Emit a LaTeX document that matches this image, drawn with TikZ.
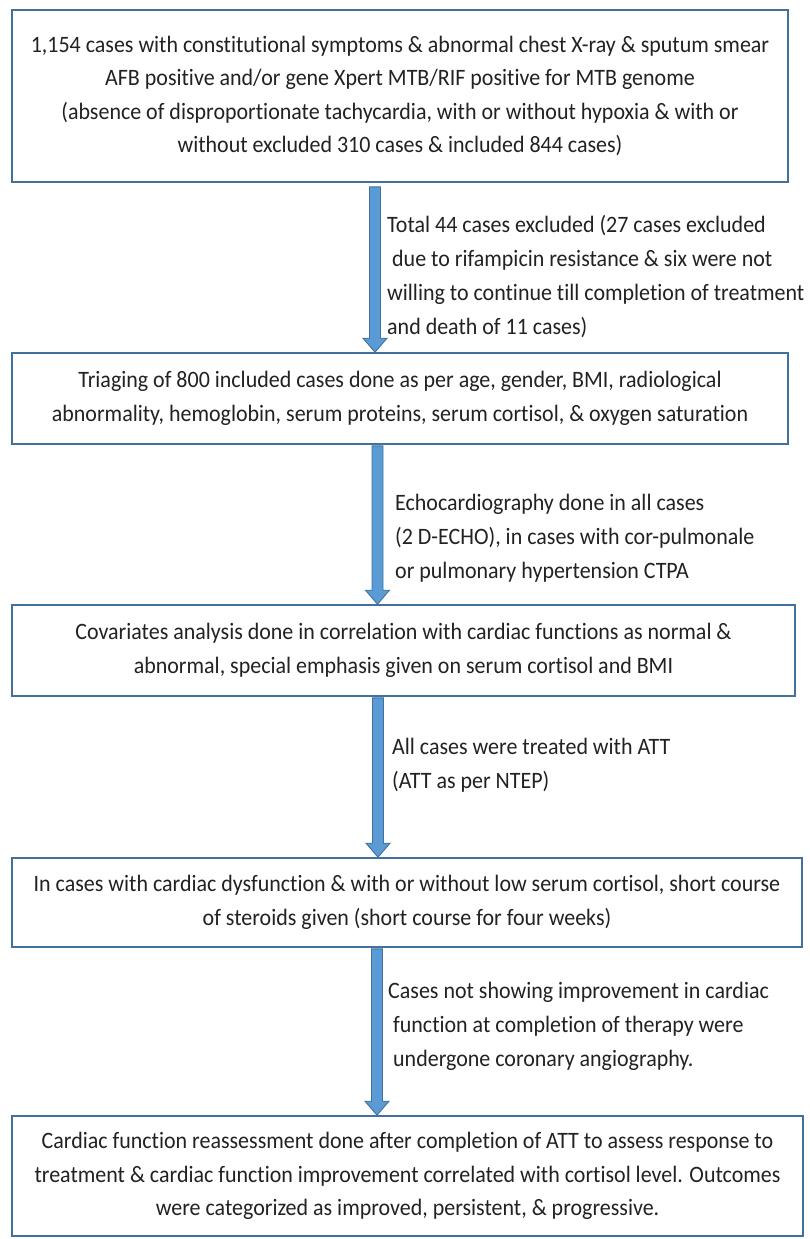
\documentclass[tikz,border=0pt]{standalone}
\usepackage{fontspec}
\setmainfont{Carlito}[FakeStretch=0.935, Ligatures=CommonOff]
\usetikzlibrary{calc}
\definecolor{boxline}{HTML}{41719C}
\definecolor{arrfill}{HTML}{5B9BD5}
\definecolor{txt}{HTML}{222222}
\tikzset{
  flowbox/.style={draw=boxline, line width=1.6pt, fill=white, align=center, inner sep=0pt,
    font=\fontsize{23.5}{33.5}\selectfont, text=txt},
  lbl/.style={align=left, anchor=west, inner sep=0pt, font=\fontsize{23.5}{34}\selectfont, text=txt},
  barrow/.style={draw=boxline, fill=arrfill, line width=0.9pt, line join=miter},
}
\newcommand{\blockarr}[2]{%
  \draw[barrow] let \p1=(#1), \p2=(#2) in
    (\x1-5.5pt,\y1) -- (\x1+5.5pt,\y1) -- (\x1+5.5pt,\y2+14pt) -- (\x1+12pt,\y2+14pt)
    -- (\x2,\y2) -- (\x1-12pt,\y2+14pt) -- (\x1-5.5pt,\y2+14pt) -- cycle;}
\begin{document}
\begin{tikzpicture}[x=1pt,y=-1pt]
\useasboundingbox (0,0) rectangle (810,1239);
\fill[white] (0,0) rectangle (810,1239);

\node[flowbox, minimum width=776pt, minimum height=172pt] (b1) at (400,96)
  {1,154 cases with constitutional symptoms \& abnormal chest X-ray \& sputum smear\\
   AFB positive and/or gene Xpert MTB/RIF positive for MTB genome\\
   (absence of disproportionate tachycardia, with or without hypoxia \& with or\\
   without excluded 310 cases \& included 844 cases)};
\node[flowbox, minimum width=776pt, minimum height=91pt] (b2) at (400,398.5)
  {Triaging of 800 included cases done as per age, gender, BMI, radiological\\
   abnormality, hemoglobin, serum proteins, serum cortisol, \& oxygen saturation};
\node[flowbox, minimum width=783pt, minimum height=91pt] (b3) at (403.5,650.5)
  {Covariates analysis done in correlation with cardiac functions as normal \&\\
   abnormal, special emphasis given on serum cortisol and BMI};
\node[flowbox, minimum width=790pt, minimum height=89pt] (b4) at (407,902.5)
  {In cases with cardiac dysfunction \& with or without low serum cortisol, short course\\
   of steroids given (short course for four weeks)};
\node[flowbox, minimum width=791pt, minimum height=120pt] (b5) at (407.5,1176)
  {Cardiac function reassessment done after completion of ATT to assess response to\\
   treatment \& cardiac function improvement correlated with cortisol level. Outcomes\\
   were categorized as improved, persistent, \& progressive.};

\coordinate (s1) at (b1.south -| 375,0);
\coordinate (e1) at (b2.north -| 375,0);
\coordinate (s2) at (b2.south -| 377.5,0);
\coordinate (e2) at (b3.north -| 377.5,0);
\coordinate (s3) at (b3.south -| 378,0);
\coordinate (e3) at (b4.north -| 378,0);
\coordinate (s4) at (b4.south -| 377,0);
\coordinate (e4) at (b5.north -| 377,0);

\blockarr{$(s1)+(0,4)$}{e1}
\blockarr{$(s2)+(0,1)$}{e2}
\blockarr{$(s3)+(0,1)$}{e3}
\blockarr{$(s4)+(0,1)$}{e4}

\node[lbl] (l1) at (387,277)
  {Total 44 cases excluded (27 cases excluded\\
   \hspace*{5pt}due to rifampicin resistance \& six were not\\
   willing to continue till completion of treatment\\
   and death of 11 cases)};
\node[lbl] (l2) at (395,538)
  {Echocardiography done in all cases\\
   (2 D-ECHO), in cases with cor-pulmonale\\
   or pulmonary hypertension CTPA};
\node[lbl] (l3) at (392,765.5)
  {All cases were treated with ATT\\
   (ATT as per NTEP)};
\node[lbl] (l4) at (388,1026)
  {Cases not showing improvement in cardiac\\
   \hspace*{5pt}function at completion of therapy were\\
   \hspace*{5pt}undergone coronary angiography.};
\end{tikzpicture}
\end{document}
